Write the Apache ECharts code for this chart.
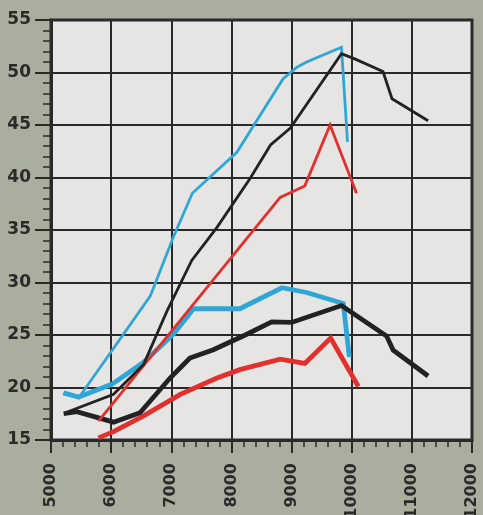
<!DOCTYPE html>
<html>
<head>
<meta charset="utf-8">
<script src="https://cdn.jsdelivr.net/npm/echarts@6/dist/echarts.min.js"></script>
<style>
html,body{margin:0;padding:0;background:#aaae9f;}
#c{width:483px;height:515px;}
</style>
</head>
<body>
<div id="c"></div>
<script>
// Axis ranges / ticks
const xTicks = [5000, 6000, 7000, 8000, 9000, 10000, 11000, 12000];
const yTicks = [15, 20, 25, 30, 35, 40, 45, 50, 55];

// Upper (thin) curves
const blueThinRpm = [5200, 5460, 6650, 7040, 7350, 8090, 8860, 9090, 9250, 9830, 9930];
const blueThinVal = [19.4, 19.0, 28.7, 34.4, 38.5, 42.4, 49.4, 50.5, 51.0, 52.4, 43.4];

const blackThinRpm = [5240, 6040, 6540, 6930, 7340, 7760, 8310, 8650, 8980, 9830, 10050, 10520, 10670, 11270];
const blackThinVal = [17.6, 19.35, 22.2, 27.3, 32.1, 35.25, 39.9, 43.1, 44.7, 51.8, 51.3, 50.1, 47.5, 45.4];

const redThinRpm = [5790, 8810, 9220, 9640, 10080];
const redThinVal = [16.8, 38.1, 39.2, 45.0, 38.5];

// Lower (thick) curves
const blueThickRpm = [5210, 5460, 6010, 6540, 7040, 7370, 8140, 8840, 9250, 9860, 9960];
const blueThickVal = [19.5, 19.1, 20.3, 22.4, 25.1, 27.5, 27.5, 29.5, 29.05, 28.0, 22.9];

const blackThickRpm = [5210, 5430, 6040, 6480, 6980, 7310, 7700, 8230, 8670, 9000, 9830, 10580, 10690, 11270];
const blackThickVal = [17.5, 17.7, 16.7, 17.6, 20.9, 22.8, 23.6, 25.0, 26.25, 26.2, 27.8, 24.9, 23.55, 21.1];

const redThickRpm = [5790, 6040, 6540, 7150, 7760, 8140, 8810, 9220, 9650, 10110];
const redThickVal = [15.2, 15.8, 17.3, 19.35, 20.9, 21.7, 22.7, 22.3, 24.7, 20.1];

function zip(a, b) { return a.map((v, i) => [v, b[i]]); }

const BLUE = '#2fa6d6', BLACK = '#222222', RED = '#e2302c';
const INK = '#2a2a2a';

function line(name, rpm, val, color, width) {
  return {
    name: name, type: 'line', data: zip(rpm, val), symbol: 'none',
    lineStyle: { color: color, width: width, join: 'miter' },
    itemStyle: { color: color }, animation: false
  };
}

const chart = echarts.init(document.getElementById('c'));
chart.setOption({
  backgroundColor: '#aaae9f',
  animation: false,
  grid: {
    left: 51, right: 11, top: 20, bottom: 75,
    containLabel: false, outerBoundsMode: 'none',
    show: true, backgroundColor: '#e7e5e4', borderColor: INK, borderWidth: 3
  },
  xAxis: {
    type: 'value',
    min: xTicks[0], max: xTicks[xTicks.length - 1], interval: 1000,
    axisLine: { show: true, lineStyle: { color: INK, width: 3 } },
    axisTick: { show: true, length: 13, lineStyle: { color: INK, width: 2 } },
    minorTick: { show: true, splitNumber: 5, length: 7, lineStyle: { color: INK, width: 1.5 } },
    splitLine: { show: true, lineStyle: { color: INK, width: 2 } },
    axisLabel: {
      rotate: 90, margin: 23, color: INK,
      fontFamily: 'DejaVu Sans', fontWeight: 'bold', fontSize: 16,
      showMinLabel: true, showMaxLabel: true,
      formatter: function (v) { return String(v); }
    }
  },
  yAxis: {
    type: 'value',
    min: yTicks[0], max: yTicks[yTicks.length - 1], interval: 5,
    axisLine: { show: true, lineStyle: { color: INK, width: 3 } },
    axisTick: { show: true, length: 16, lineStyle: { color: INK, width: 2 } },
    minorTick: { show: true, splitNumber: 5, length: 8, lineStyle: { color: INK, width: 1.5 } },
    splitLine: { show: true, lineStyle: { color: INK, width: 2 } },
    axisLabel: {
      margin: 20, color: INK,
      fontFamily: 'DejaVu Sans', fontWeight: 'bold', fontSize: 17,
      formatter: function (v) { return String(v); }
    }
  },
  series: [
    line('blue-thick', blueThickRpm, blueThickVal, BLUE, 4.8),
    line('red-thick', redThickRpm, redThickVal, RED, 4.8),
    line('black-thick', blackThickRpm, blackThickVal, BLACK, 4.8),
    line('blue-thin', blueThinRpm, blueThinVal, BLUE, 2.8),
    line('red-thin', redThinRpm, redThinVal, RED, 2.8),
    line('black-thin', blackThinRpm, blackThinVal, BLACK, 2.8)
  ]
});
</script>
</body>
</html>
